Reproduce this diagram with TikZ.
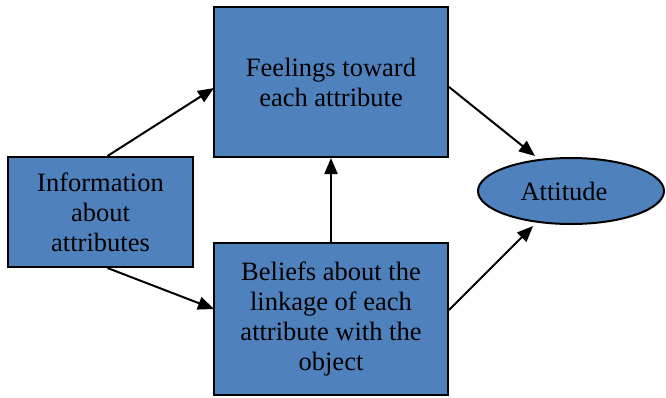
\documentclass[tikz,border=0pt]{standalone}
\usepackage{fontspec}
\setmainfont{Liberation Serif}
\usetikzlibrary{arrows.meta,shapes.geometric}
\definecolor{boxblue}{RGB}{79,129,189}
\begin{document}
\begin{tikzpicture}[x=1pt,y=-1pt,
  box/.style={draw=black,line width=2pt,fill=boxblue,align=center,inner sep=0pt,
    font=\rmfamily\fontsize{26.5}{30}\selectfont},
  conn/.style={line width=2pt,-{Triangle[length=16pt,width=13pt]}},
  lbl/.style={font=\rmfamily\fontsize{26.5}{30}\selectfont}]
\useasboundingbox (0,0) rectangle (666,397);
\node[box,minimum width=185pt,minimum height=110pt] (info) at (100.5,212) {Information\\about\\attributes};
\node[box,minimum width=234pt,minimum height=150pt] (feel) at (331,82) {Feelings toward\\each attribute};
\node[box,minimum width=234pt,minimum height=152pt] (bel) at (331,319) {Beliefs about the\\linkage of each\\attribute with the\\object};
\node[draw=black,line width=2pt,fill=boxblue,ellipse,minimum width=186pt,minimum height=66pt,inner sep=0pt] (att) at (571,191) {};
\node[lbl] (attl) at (564,191) {Attitude};
\draw[conn] (info.north) ++(7,0) -- (214,88);
\draw[conn] (info.south) ++(7,0) -- (214,309);
\draw[conn] (bel.north) -- (feel.south);
\draw[conn] (feel.east) ++(0,5) -- (535,156);
\draw[conn] (bel.east) ++(0,-9) -- (533,226);
\end{tikzpicture}
\end{document}
